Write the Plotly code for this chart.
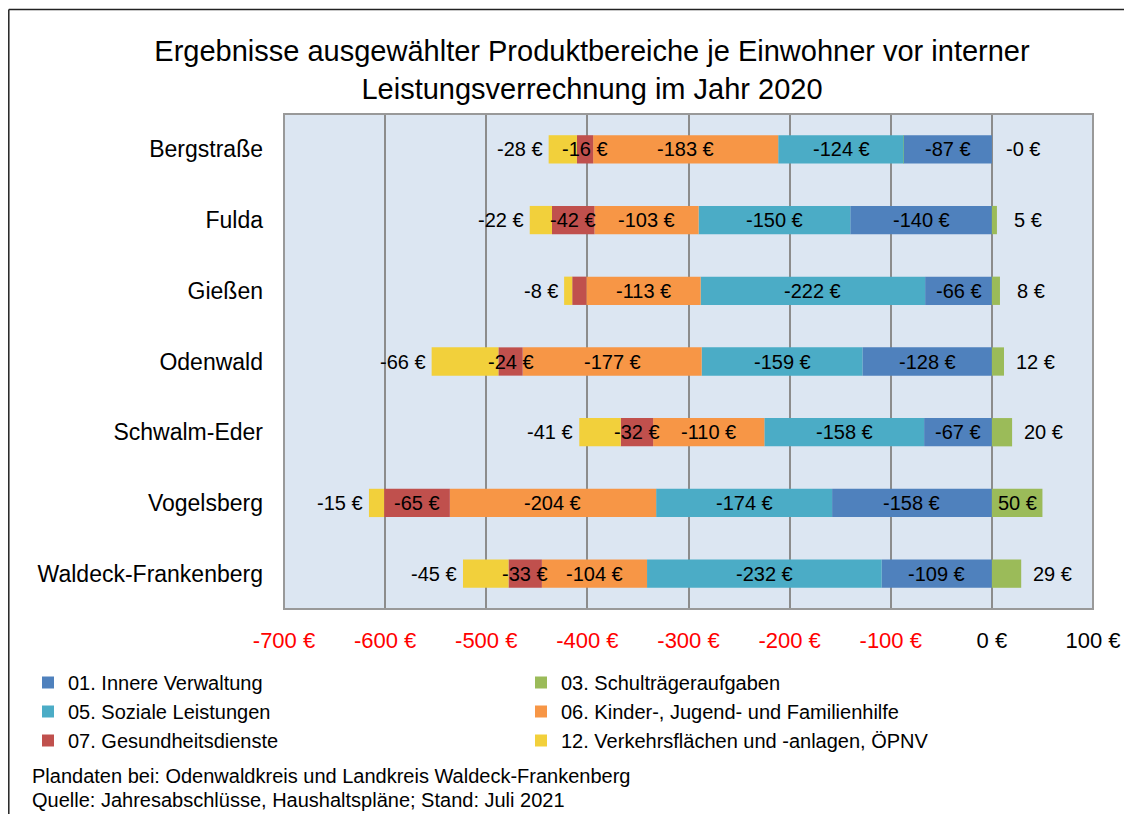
import plotly.graph_objects as go

categories = ["Bergstraße", "Fulda", "Gießen", "Odenwald", "Schwalm-Eder", "Vogelsberg", "Waldeck-Frankenberg"]

innere_verwaltung = [-87, -140, -66, -128, -67, -158, -109]
schultraeger = [-0.3, 5, 8, 12, 20, 50, 29]
soziale_leistungen = [-124, -150, -222, -159, -158, -174, -232]
kinder_jugend = [-183, -103, -113, -177, -110, -204, -104]
gesundheit = [-16, -42, -14, -24, -32, -65, -33]
verkehr = [-28, -22, -8, -66, -41, -15, -45]

series_names = ["01. Innere Verwaltung", "03. Schulträgeraufgaben", "05. Soziale Leistungen",
                "06. Kinder-, Jugend- und Familienhilfe", "07. Gesundheitsdienste",
                "12. Verkehrsflächen und -anlagen, ÖPNV"]
series_values = [innere_verwaltung, schultraeger, soziale_leistungen, kinder_jugend, gesundheit, verkehr]
series_colors = ["#4F81BD", "#9BBB59", "#4BACC6", "#F79646", "#C0504D", "#F2D03B"]

tick_values = [-700, -600, -500, -400, -300, -200, -100, 0, 100]
tick_labels = ["-700 €", "-600 €", "-500 €", "-400 €", "-300 €", "-200 €", "-100 €", "0 €", "100 €"]

FONT = "Liberation Sans, Arial, sans-serif"
LABEL_SIZE = 20

# page has an 8px body margin: the figure is drawn from (8, 8)
OFF = 8
FW, FH = 1132 - OFF, 814 - OFF
L, T, W, H = 284 - OFF, 114 - OFF, 809, 495

def px(x):
    return (x - OFF - L) / W

def py(y):
    return (T + H - (y - OFF)) / H

fig = go.Figure()
for name, vals, col in zip(series_names, series_values, series_colors):
    fig.add_trace(go.Bar(
        y=categories, x=vals, name=name, orientation="h",
        marker=dict(color=col, line=dict(width=0)),
        hoverinfo="x+name",
    ))

def fmt(v):
    r = round(v)
    if r == 0:
        return "-0 €" if v < 0 else "0 €"
    return f"{r:d} €"

annotations = []
lab_font = dict(size=LABEL_SIZE, color="black", family=FONT)
neg_order = [0, 2, 3, 4, 5]
for ci, cat in enumerate(categories):
    base = 0.0
    for si in neg_order:
        v = series_values[si][ci]
        left = base + v
        if si == 5:
            annotations.append(dict(x=left, y=cat, text=fmt(v), showarrow=False,
                                    xanchor="right", xshift=-4, font=lab_font))
        elif abs(v) >= 15:
            annotations.append(dict(x=(base + left) / 2, y=cat, text=fmt(v), showarrow=False,
                                    xanchor="center", font=lab_font))
        base = left
    g = schultraeger[ci]
    if g >= 40:
        annotations.append(dict(x=g / 2, y=cat, text=fmt(g), showarrow=False, xanchor="center",
                                font=lab_font))
    else:
        annotations.append(dict(x=max(g, 0), y=cat, text=fmt(g), showarrow=False, xanchor="center",
                                xshift=31, font=lab_font))

foot_font = dict(size=20, color="black", family=FONT)
annotations.append(dict(xref="paper", yref="paper", x=px(30), y=py(776),
                        text="Plandaten bei: Odenwaldkreis und Landkreis Waldeck-Frankenberg",
                        showarrow=False, xanchor="left", yanchor="middle", font=foot_font))
annotations.append(dict(xref="paper", yref="paper", x=px(30), y=py(800),
                        text="Quelle: Jahresabschlüsse, Haushaltspläne; Stand: Juli 2021",
                        showarrow=False, xanchor="left", yanchor="middle", font=foot_font))

tick_text = [f'<span style="color:{"#FF0000" if v < 0 else "#000000"}">{t}</span>'
             for v, t in zip(tick_values, tick_labels)]

shapes = [
    dict(type="line", xref="paper", yref="paper", x0=px(8.8), x1=px(8.8), y0=py(9.5), y1=py(840),
         line=dict(color="#222222", width=1.5)),
    dict(type="line", xref="paper", yref="paper", x0=px(8.8), x1=px(1160), y0=py(9.5), y1=py(9.5),
         line=dict(color="#222222", width=1.5)),
    dict(type="rect", xref="paper", yref="paper", x0=0, x1=1, y0=0, y1=1,
         line=dict(color="#999999", width=2), layer="above"),
]

fig.update_layout(
    barmode="relative",
    bargap=0.6,
    width=FW, height=FH,
    margin=dict(l=L, r=FW - L - W, t=T, b=FH - T - H),
    paper_bgcolor="white",
    plot_bgcolor="#DCE6F2",
    font=dict(family=FONT, color="black"),
    title=dict(text="Ergebnisse ausgewählter Produktbereiche je Einwohner vor interner<br>Leistungsverrechnung im Jahr 2020",
               x=(592 - OFF) / FW, xref="container", xanchor="center",
               y=1 - (61 - OFF) / FH, yref="container", yanchor="middle",
               font=dict(size=29, family=FONT, color="black")),
    xaxis=dict(range=[-700, 100], tickvals=tick_values, ticktext=tick_text,
               showgrid=True, gridcolor="#8C8C8C", gridwidth=1.5,
               zeroline=True, zerolinecolor="#8C8C8C", zerolinewidth=1.5,
               ticks="", ticklabelstandoff=16,
               tickfont=dict(size=22, family=FONT), fixedrange=True),
    yaxis=dict(categoryorder="array", categoryarray=categories, autorange="reversed",
               ticks="", ticklabelstandoff=20, showgrid=False,
               tickfont=dict(size=23, family=FONT)),
    legend=dict(orientation="h", x=px(28), y=py(663), xanchor="left", yanchor="top",
                entrywidth=448, entrywidthmode="pixels", traceorder="normal",
                font=dict(size=20, family=FONT), itemwidth=30, bgcolor="rgba(0,0,0,0)"),
    annotations=annotations,
    shapes=shapes,
)

fig.write_html("out.html")
